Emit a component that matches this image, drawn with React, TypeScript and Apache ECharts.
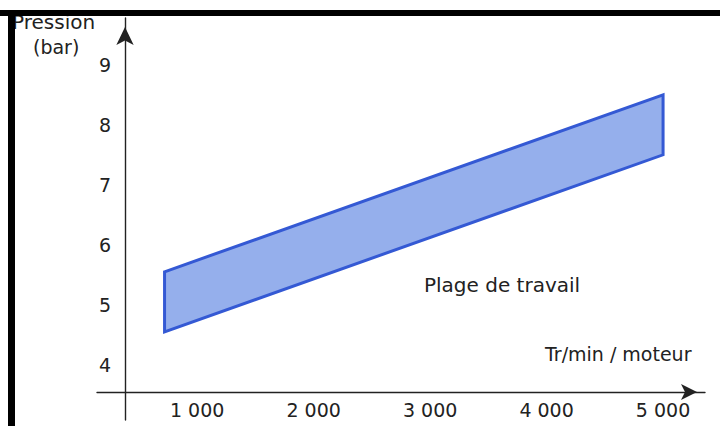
import React, { useEffect, useRef } from "react";
import * as echarts from "echarts";

// ---- data ----
const xTicks = [1000, 2000, 3000, 4000, 5000];
const xTickLabels = ["1 000", "2 000", "3 000", "4 000", "5 000"];
const yTicks = [4, 5, 6, 7, 8, 9];
const yTickLabels = ["4", "5", "6", "7", "8", "9"];
const bandRpm = [720, 5000];
const bandLow = [4.55, 7.5];
const bandHigh = [5.55, 8.5];
const yAxisTitle = ["Pression", "(bar)"];
const xAxisTitle = "Tr/min / moteur";
const bandLabel = "Plage de travail";

const FONT = "DejaVu Sans";
const TEXT_COLOR = "#222222";

export default function App() {
  const ref = useRef<HTMLDivElement>(null);

  useEffect(() => {
    if (!ref.current) return;
    const chart = echarts.init(ref.current, undefined, { renderer: "svg" });

    const bandData = bandRpm.map((x, i) => [x, bandLow[i], bandHigh[i]]);

    const option: any = {
      animation: false,
      backgroundColor: "#ffffff",
      grid: {
        left: 97,
        right: 15,
        top: 18,
        bottom: 6,
        containLabel: false,
        outerBoundsMode: "none",
      },
      xAxis: {
        type: "value",
        min: 140,
        max: 5360,
        position: "bottom",
        offset: -28,
        axisLine: {
          show: true,
          onZero: false,
          lineStyle: { color: "#222222", width: 1.4 },
          symbol: ["none", "arrow"],
          symbolSize: [12, 16],
          symbolOffset: [0, -8],
        },
        axisTick: { show: false },
        splitLine: { show: false },
        axisLabel: {
          customValues: xTicks,
          formatter: (v: number) => {
            const i = xTicks.indexOf(v);
            return i >= 0 ? xTickLabels[i] : "";
          },
          margin: 8,
          fontSize: 19,
          fontFamily: FONT,
          color: TEXT_COLOR,
        },
      },
      yAxis: {
        type: "value",
        min: 3.08,
        max: 9.78,
        position: "left",
        offset: -28,
        axisLine: {
          show: true,
          onZero: false,
          lineStyle: { color: "#222222", width: 1.4 },
          symbol: ["none", "arrow"],
          symbolSize: [13, 18],
          symbolOffset: [0, -9],
        },
        axisTick: { show: false },
        splitLine: { show: false },
        axisLabel: {
          customValues: yTicks,
          formatter: (v: number) => {
            const i = yTicks.indexOf(v);
            return i >= 0 ? yTickLabels[i] : "";
          },
          margin: 14,
          fontSize: 19,
          fontFamily: FONT,
          color: TEXT_COLOR,
        },
      },
      series: [
        {
          type: "custom",
          data: bandData,
          encode: { x: 0, y: [1, 2] },
          clip: false,
          renderItem: (params: any, api: any) => {
            if (params.dataIndex !== 0) return null;
            const n = bandRpm.length;
            const pts: number[][] = [];
            for (let i = 0; i < n; i++) pts.push(api.coord([bandRpm[i], bandHigh[i]]));
            for (let i = n - 1; i >= 0; i--) pts.push(api.coord([bandRpm[i], bandLow[i]]));
            return {
              type: "polygon",
              shape: { points: pts },
              style: {
                fill: "#95afec",
                stroke: "#3459d4",
                lineWidth: 3,
                lineJoin: "miter",
              },
            };
          },
        },
      ],
      graphic: [
        {
          type: "text",
          left: 12,
          top: 12,
          z: 10,
          style: { text: yAxisTitle[0], fontSize: 20, fontFamily: FONT, fill: TEXT_COLOR },
        },
        {
          type: "text",
          left: 33,
          top: 37,
          z: 10,
          style: { text: yAxisTitle[1], fontSize: 19, fontFamily: FONT, fill: TEXT_COLOR },
        },
        {
          type: "text",
          left: 545,
          top: 344,
          z: 10,
          style: { text: xAxisTitle, fontSize: 19, fontFamily: FONT, fill: TEXT_COLOR },
        },
        {
          type: "text",
          left: 424,
          top: 275,
          z: 10,
          style: { text: bandLabel, fontSize: 20, fontFamily: FONT, fill: TEXT_COLOR },
        },
        {
          type: "rect",
          z: 100,
          shape: { x: 0, y: 10, width: 720, height: 6 },
          style: { fill: "#000000" },
        },
        {
          type: "rect",
          z: 100,
          shape: { x: 8, y: 10, width: 7, height: 416 },
          style: { fill: "#000000" },
        },
      ],
    };

    chart.setOption(option);
    return () => chart.dispose();
  }, []);

  return (
    <div
      ref={ref}
      style={{ position: "fixed", left: 0, top: 0, width: 720, height: 426 }}
    />
  );
}
